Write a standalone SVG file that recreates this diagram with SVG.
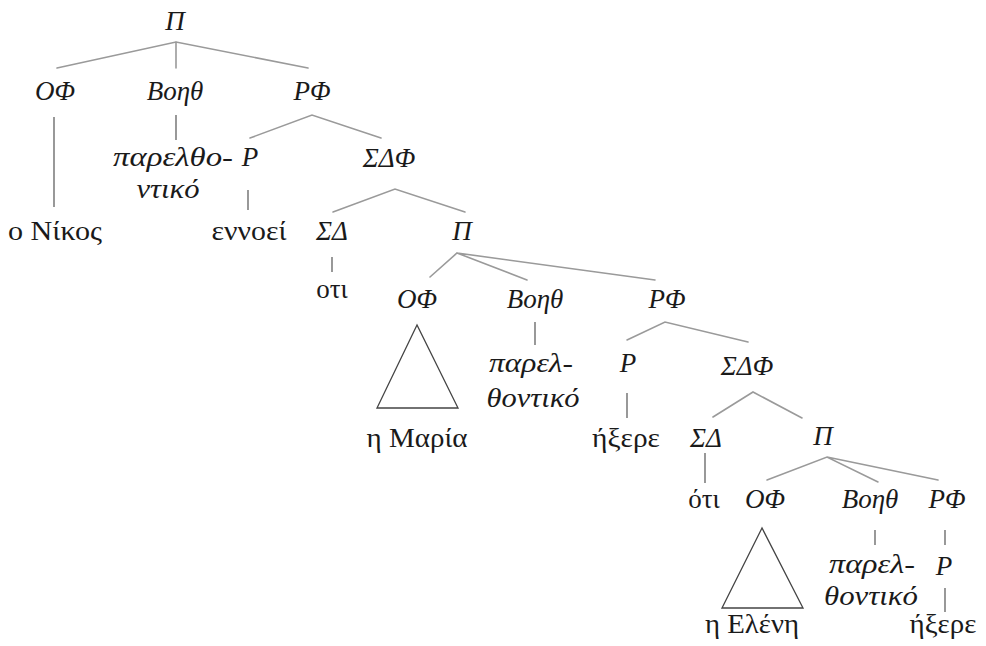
<svg xmlns="http://www.w3.org/2000/svg" width="986" height="646" viewBox="0 0 986 646">
<style>
text{font-family:"Liberation Serif","DejaVu Serif",serif;font-size:27px;fill:#1a1a1a;text-anchor:middle}
.c{font-style:italic}
.w{font-style:italic;font-size:28px}
.e{stroke:#9a9a9a;stroke-width:1.6;fill:none;stroke-linecap:round}
.v{stroke:#555;stroke-width:1.2;fill:none}
.t{stroke:#444;stroke-width:1.3;fill:none}
</style>
<rect width="986" height="646" fill="#fff"/>
<g id="connectors">
<path class="e" d="M57 68L176 42L308 68M176 42V68"/>
<path class="v" d="M54 117V207M176 115V140M248 190V210M332 257V272"/>
<path class="e" d="M250 138L312 115L381 138"/>
<path class="e" d="M333 212L395 189L465 212"/>
<path class="e" d="M430 277L457 253L527 280M457 253L655 280"/>
<path class="v" d="M535 322V345M627 393V418M705 453V483M875 530V545M945 530V545M945 588V612"/>
<path class="e" d="M627 340L665 322L748 342"/>
<path class="e" d="M713 417L753 392L802 418"/>
<path class="e" d="M767 480L827 457L878 482M827 457L938 480"/>
<path class="t" d="M417 325L377 408H458Z"/>
<path class="t" d="M762 528L722 608H803Z"/>
</g>
<g id="n1"><text class="c" x="175" y="30">Π</text></g>
<g id="n2"><text class="c" x="55" y="100">ΟΦ</text></g>
<g id="n3"><text class="c" x="175" y="100">Βοηθ</text></g>
<g id="n4"><text class="c" x="312" y="100">ΡΦ</text></g>
<g id="n5"><text class="w" x="173" y="166" textLength="120" lengthAdjust="spacingAndGlyphs">παρελθο-</text><text class="w" x="168" y="198" textLength="63" lengthAdjust="spacingAndGlyphs">ντικό</text></g>
<g id="n6"><text class="c" x="250" y="166">Ρ</text></g>
<g id="n7"><text class="c" x="389" y="167">ΣΔΦ</text></g>
<g id="n8"><text x="55" y="240" textLength="94" lengthAdjust="spacingAndGlyphs">ο Νίκος</text></g>
<g id="n9"><text x="249" y="240" textLength="75" lengthAdjust="spacingAndGlyphs">εννοεί</text></g>
<g id="n10"><text class="c" x="332" y="240">ΣΔ</text></g>
<g id="n11"><text class="c" x="462" y="240">Π</text></g>
<g id="n12"><text x="332" y="298">οτι</text></g>
<g id="n13"><text class="c" x="417" y="308">ΟΦ</text></g>
<g id="n14"><text class="c" x="535" y="308">Βοηθ</text></g>
<g id="n15"><text class="c" x="667" y="308">ΡΦ</text></g>
<g id="n16"><text class="w" x="531" y="372" textLength="84" lengthAdjust="spacingAndGlyphs">παρελ-</text><text class="w" x="533" y="407" textLength="93" lengthAdjust="spacingAndGlyphs">θοντικό</text></g>
<g id="n17"><text class="c" x="628" y="372">Ρ</text></g>
<g id="n18"><text class="c" x="747" y="375">ΣΔΦ</text></g>
<g id="n19"><text x="417" y="447" textLength="101" lengthAdjust="spacingAndGlyphs">η Μαρία</text></g>
<g id="n20"><text x="626" y="447" textLength="68" lengthAdjust="spacingAndGlyphs">ήξερε</text></g>
<g id="n21"><text class="c" x="706" y="447">ΣΔ</text></g>
<g id="n22"><text class="c" x="823" y="445">Π</text></g>
<g id="n23"><text x="704" y="508">ότι</text></g>
<g id="n24"><text class="c" x="765" y="508">ΟΦ</text></g>
<g id="n25"><text class="c" x="870" y="508">Βοηθ</text></g>
<g id="n26"><text class="c" x="947" y="508">ΡΦ</text></g>
<g id="n27"><text class="w" x="872" y="573" textLength="86" lengthAdjust="spacingAndGlyphs">παρελ-</text><text class="w" x="871" y="605" textLength="94" lengthAdjust="spacingAndGlyphs">θοντικό</text></g>
<g id="n28"><text class="c" x="944" y="575">Ρ</text></g>
<g id="n29"><text x="752" y="633" textLength="94" lengthAdjust="spacingAndGlyphs">η Ελένη</text></g>
<g id="n30"><text x="943" y="633" textLength="67" lengthAdjust="spacingAndGlyphs">ήξερε</text></g>
</svg>
